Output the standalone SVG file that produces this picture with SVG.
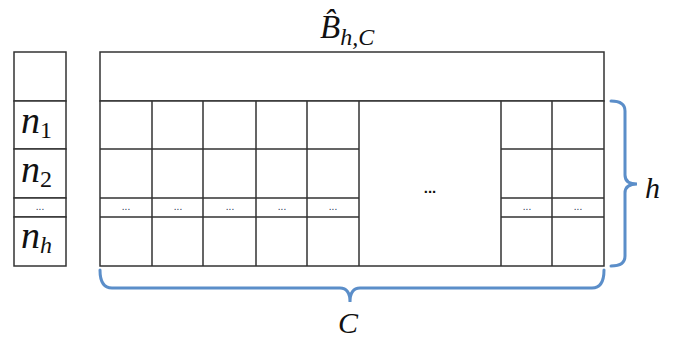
<svg xmlns="http://www.w3.org/2000/svg" width="689" height="338" viewBox="0 0 689 338">
<style>
.c{fill:#fff;stroke:#333;stroke-width:1.5}
.m{font-style:italic;fill:#111}
.u{font-style:normal}
.d{font-family:'Liberation Sans',sans-serif;font-size:10px;fill:#2a3550;text-anchor:middle}
.br{fill:none;stroke:#5b8ec9;stroke-width:3;stroke-linecap:round}
</style>
<rect width="689" height="338" fill="#fff"/>
<g id="title">
<text class="m" font-family="Liberation Serif, DejaVu Serif, serif" x="320" y="38" font-size="33">B̂<tspan font-size="24" dy="7">h,C</tspan></text>
</g>
<g id="left-column">
<rect class="c" x="14" y="52" width="52" height="49"/>
<rect class="c" x="14" y="101" width="52" height="48"/>
<rect class="c" x="14" y="149" width="52" height="49"/>
<rect class="c" x="14" y="198" width="52" height="19"/>
<rect class="c" x="14" y="217" width="52" height="49"/>
<text class="m" font-family="Liberation Serif, DejaVu Serif, serif" x="21" y="133" font-size="38">n<tspan class="u" font-size="24" dy="5">1</tspan></text>
<text class="m" font-family="Liberation Serif, DejaVu Serif, serif" x="21" y="182" font-size="38">n<tspan class="u" font-size="24" dy="5">2</tspan></text>
<text class="d" x="40" y="210">...</text>
<text class="m" font-family="Liberation Serif, DejaVu Serif, serif" x="21" y="248" font-size="38">n<tspan font-size="24" dy="5">h</tspan></text>
</g>
<g id="matrix">
<rect class="c" x="100" y="52" width="504" height="49"/>
<rect class="c" x="100" y="101" width="504" height="165"/>
<path d="M152,101V266M203,101V266M256,101V266M307,101V266M359,101V266M501,101V266M552,101V266" stroke="#333" stroke-width="1.5" fill="none"/>
<path d="M100,149H359M100,198H359M100,217H359M501,149H604M501,198H604M501,217H604" stroke="#333" stroke-width="1.5" fill="none"/>
<text class="d" x="126" y="210">...</text>
<text class="d" x="178" y="210">...</text>
<text class="d" x="230" y="210">...</text>
<text class="d" x="282" y="210">...</text>
<text class="d" x="333" y="210">...</text>
<text class="d" x="527" y="210">...</text>
<text class="d" x="578" y="210">...</text>
<text x="430" y="193" font-family="Liberation Sans, sans-serif" font-size="15" font-weight="bold" fill="#111" text-anchor="middle">...</text>
</g>
<g id="connectors">
<path class="br" d="M611,101Q625,101 625,111V175Q625,184 637,184Q625,184 625,193V256Q625,266 611,266"/>
<path class="br" d="M100,270Q100,288 112,288H340Q350,288 350,302Q350,288 360,288H592Q604,288 604,270"/>
</g>
<g id="labels">
<text class="m" font-family="Liberation Serif, DejaVu Serif, serif" x="645" y="198" font-size="30">h</text>
<text class="m" font-family="Liberation Serif, DejaVu Serif, serif" x="338" y="333" font-size="30">C</text>
</g>
</svg>
